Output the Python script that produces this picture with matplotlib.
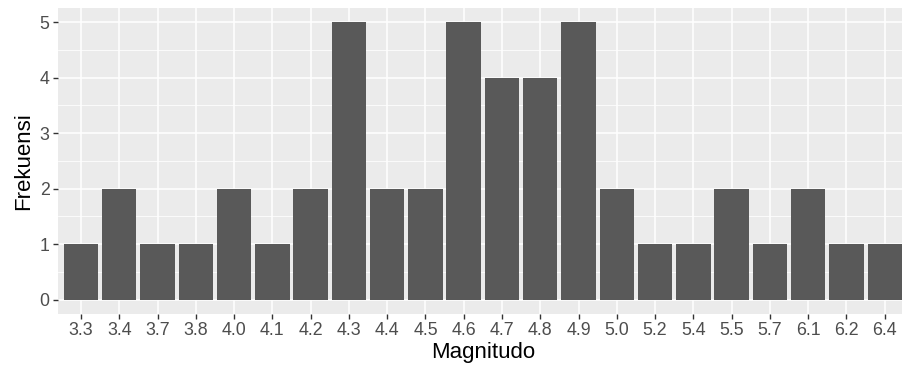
import matplotlib
matplotlib.use("Agg")
import matplotlib.pyplot as plt
import numpy as np

magnitudes = ["3.3", "3.4", "3.7", "3.8", "4.0", "4.1", "4.2", "4.3", "4.4", "4.5", "4.6",
              "4.7", "4.8", "4.9", "5.0", "5.2", "5.4", "5.5", "5.7", "6.1", "6.2", "6.4"]
counts = [1, 2, 1, 1, 2, 1, 2, 5, 2, 2, 5, 4, 4, 5, 2, 1, 1, 2, 1, 2, 1, 1]
y_ticks = [0, 1, 2, 3, 4, 5]

plt.rcParams["font.family"] = ["Liberation Sans", "DejaVu Sans"]

W, H = 902, 378
fig = plt.figure(figsize=(W / 100, H / 100), dpi=100)
left, right, top, bottom = 58, 907.7, 8.4, 313.5
ax = fig.add_axes([left / W, 1 - bottom / H, (right - left) / W, (bottom - top) / H])

x = np.arange(len(magnitudes))
ax.set_facecolor("#EBEBEB")
ax.bar(x, counts, width=0.9, color="#595959", zorder=3)

ax.set_xlim(-0.6, len(magnitudes) - 1 + 0.6)
ax.set_ylim(-0.25, 5.25)
ax.set_xticks(x)
ax.set_xticklabels(magnitudes)
ax.set_yticks(y_ticks)
ax.set_yticks([0.5, 1.5, 2.5, 3.5, 4.5], minor=True)

ax.grid(which="major", color="white", linewidth=1.1, zorder=1)
ax.grid(which="minor", axis="y", color="white", linewidth=0.55, zorder=1)
ax.tick_params(which="major", length=3.5, width=1.0, color="#333333",
               labelcolor="#4D4D4D", labelsize=12.8, pad=2.5)
ax.tick_params(which="minor", length=0)
for s in ax.spines.values():
    s.set_visible(False)

ax.set_xlabel("Magnitudo", fontsize=16, color="black", labelpad=2)
ax.set_ylabel("Frekuensi", fontsize=16, color="black", labelpad=4)

fig.savefig("out.png", dpi=100)
